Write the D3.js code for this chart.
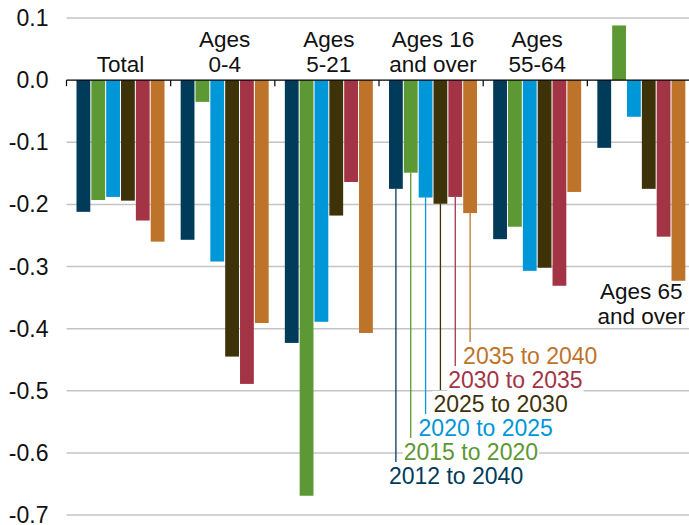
<!DOCTYPE html>
<html><head><meta charset="utf-8">
<script src="https://cdn.jsdelivr.net/npm/d3@7/dist/d3.min.js"></script>
<style>body{margin:0;background:#fff}svg{display:block}text{font-family:"Liberation Sans",Arial,sans-serif}</style>
</head><body>
<svg id="chart" width="689" height="525"></svg>
<script>
const groups = ["Total", "Ages 0-4", "Ages 5-21", "Ages 16 and over", "Ages 55-64", "Ages 65 and over"];
const groupLines = [["Total"], ["Ages", "0-4"], ["Ages", "5-21"], ["Ages 16", "and over"], ["Ages", "55-64"], ["Ages 65", "and over"]];
const series = ["2012 to 2040", "2015 to 2020", "2020 to 2025", "2025 to 2030", "2030 to 2035", "2035 to 2040"];
const colors = ["#003B5A", "#5C9834", "#0097D8", "#3E3208", "#A33446", "#BE732A"];
const v2012_2040 = [-0.212, -0.257, -0.423, -0.175, -0.256, -0.109];
const v2015_2020 = [-0.193, -0.035, -0.669, -0.149, -0.236, 0.088];
const v2020_2025 = [-0.188, -0.292, -0.389, -0.189, -0.307, -0.059];
const v2025_2030 = [-0.194, -0.445, -0.218, -0.199, -0.302, -0.175];
const v2030_2035 = [-0.226, -0.489, -0.164, -0.188, -0.331, -0.252];
const v2035_2040 = [-0.260, -0.391, -0.407, -0.214, -0.180, -0.323];
const yTicks = [0.1, 0.0, -0.1, -0.2, -0.3, -0.4, -0.5, -0.6, -0.7];
const yTickLabels = ["0.1", "0.0", "-0.1", "-0.2", "-0.3", "-0.4", "-0.5", "-0.6", "-0.7"];
const allValues = [v2012_2040, v2015_2020, v2020_2025, v2025_2030, v2030_2035, v2035_2040];

const svg = d3.select("#chart");
const y = d3.scaleLinear().domain([-0.7, 0.1]).range([515, 18]);
const x0 = d3.scaleBand().domain(groups).range([66.5, 691.5]);
const x1 = d3.scaleBand().domain(series).range([10, 98]).paddingInner(0.07);
const FS = 22.5;

// gridlines
svg.append("g").selectAll("line").data(yTicks.filter(t => t !== 0)).join("line")
  .attr("x1", 66.5).attr("x2", 689).attr("y1", d => y(d)).attr("y2", d => y(d))
  .attr("stroke", "#c4c4c4").attr("stroke-width", 1.5);

// y labels
svg.append("g").selectAll("text").data(yTicks).join("text")
  .attr("x", 48.5).attr("y", d => y(d)).attr("dy", "0.35em")
  .attr("text-anchor", "end").attr("font-size", 23).attr("fill", "#111")
  .text((d, i) => yTickLabels[i]);

// bars
const data = [];
groups.forEach((g, gi) => series.forEach((s, si) => data.push({g, s, si, v: allValues[si][gi]})));
svg.append("g").selectAll("rect").data(data).join("rect")
  .attr("x", d => x0(d.g) + x1(d.s)).attr("width", x1.bandwidth())
  .attr("y", d => y(Math.max(0, d.v))).attr("height", d => Math.abs(y(d.v) - y(0)))
  .attr("fill", d => colors[d.si]);

// zero axis
svg.append("line").attr("x1", 66.5).attr("x2", 689).attr("y1", y(0)).attr("y2", y(0))
  .attr("stroke", "#000").attr("stroke-width", 1.2);
svg.append("g").selectAll("line").data(groups).join("line")
  .attr("x1", d => x0(d)).attr("x2", d => x0(d)).attr("y1", y(0)).attr("y2", y(0) + 6)
  .attr("stroke", "#000").attr("stroke-width", 1.2);

// group labels
groups.forEach((g, gi) => {
  const cx = x0(g) + 10 + 44;
  const lines = groupLines[gi];
  let base;
  if (gi === 5) base = [298.5, 324];
  else base = lines.length === 1 ? [72] : [46.7, 72];
  lines.forEach((t, li) => {
    svg.append("text").attr("x", cx).attr("y", base[li]).attr("text-anchor", "middle")
      .attr("font-size", FS).attr("fill", "#111").text(t);
  });
});

// annotation (legend) on group "Ages 16 and over"
const ag = groups[3];
const ann = svg.append("g");
series.forEach((s, si) => {
  const lx = x0(ag) + x1(s) + x1.bandwidth() / 2;
  const base = 484 - 24 * si;
  ann.append("line").attr("x1", lx).attr("x2", lx)
    .attr("y1", y(allValues[si][3])).attr("y2", base - 22)
    .attr("stroke", colors[si]).attr("stroke-width", 1.3);
});
series.forEach((s, si) => {
  const lx = x0(ag) + x1(s) + x1.bandwidth() / 2;
  const base = 484 - 24 * si;
  const t = ann.append("text").attr("x", lx - 7).attr("y", base)
    .attr("font-size", 23).attr("fill", colors[si]).text(s);
  const bb = t.node().getBBox();
  ann.insert("rect", "text").attr("x", bb.x - 1).attr("y", bb.y)
    .attr("width", bb.width + 2).attr("height", bb.height).attr("fill", "#fff");
});
</script>
</body></html>
